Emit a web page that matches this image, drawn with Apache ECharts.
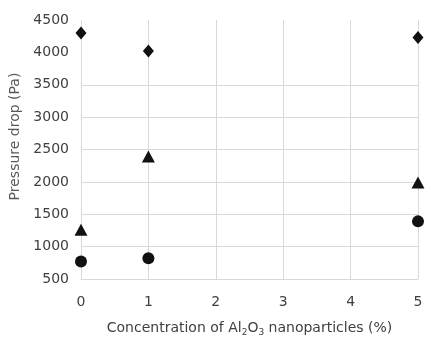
<!DOCTYPE html>
<html lang="en">
<head>
    <meta charset="utf-8">
    <title>Pressure drop</title>
    <script src="https://cdn.jsdelivr.net/npm/echarts@6/dist/echarts.min.js"></script>
    <style>
        html, body { margin: 0; padding: 0; background: #fff; }
        #chart { width: 440px; height: 341px; }
    </style>
</head>
<body>
    <div id="chart"></div>
    <script type="text/javascript">
        // concentration (%) on x
        var concentrations = [0, 1, 5];
        // pressure drop (Pa) for the three marker series
        var diamondValues = [4300, 4020, 4230];
        var triangleValues = [1260, 2390, 1990];
        var circleValues = [770, 820, 1390];
        var xTicks = [0, 1, 2, 3, 4, 5];
        var yTicks = [500, 1000, 1500, 2000, 2500, 3000, 3500, 4000, 4500];

        function pairs(vals) {
            return concentrations.map(function (c, i) { return [c, vals[i]]; });
        }

        var font = "DejaVu Sans";
        var chart = echarts.init(document.getElementById("chart"));
        var option = {
            backgroundColor: "#fff",
            animation: false,
            grid: { left: 81, right: 22, top: 20, bottom: 62, outerBoundsMode: "none", containLabel: false },
            xAxis: {
                type: "value",
                min: xTicks[0],
                max: xTicks[xTicks.length - 1],
                interval: 1,
                name: "{n|Concentration of Al}{s|2}{n|O}{s|3}{n| nanoparticles (%)}",
                nameLocation: "middle",
                nameGap: 41,
                nameTextStyle: {
                    rich: {
                        n: { fontFamily: font, fontSize: 14, color: "#404040" },
                        s: { fontFamily: font, fontSize: 9, color: "#404040", verticalAlign: "bottom", padding: [8, 0, 0, 0] }
                    }
                },
                axisLine: { show: true, lineStyle: { color: "#d9d9d9" } },
                axisTick: { show: false },
                axisLabel: { fontFamily: font, fontSize: 14, color: "#404040", margin: 16 },
                splitLine: { show: true, lineStyle: { color: "#d9d9d9" } }
            },
            yAxis: {
                type: "value",
                min: yTicks[0],
                max: yTicks[yTicks.length - 1],
                interval: 500,
                name: "Pressure drop (Pa)",
                nameLocation: "middle",
                nameGap: 57,
                nameTextStyle: { fontFamily: font, fontSize: 14, color: "#595959", padding: [0, 0, 0, 26] },
                axisLine: { show: false },
                axisTick: { show: false },
                axisLabel: { fontFamily: font, fontSize: 14, color: "#404040", margin: 12, formatter: function (v) { return String(v); } },
                splitLine: {
                    show: true,
                    lineStyle: { color: ["#d9d9d9", "#d9d9d9", "#d9d9d9", "#d9d9d9", "#d9d9d9", "#d9d9d9", "#d9d9d9", "transparent", "transparent"] }
                }
            },
            series: [
                { name: "diamond", type: "scatter", symbol: "diamond", symbolSize: [11, 13], itemStyle: { color: "#111", opacity: 1 }, data: pairs(diamondValues) },
                { name: "triangle", type: "scatter", symbol: "triangle", symbolSize: [13, 12], itemStyle: { color: "#111", opacity: 1 }, data: pairs(triangleValues) },
                { name: "circle", type: "scatter", symbol: "circle", symbolSize: 12, itemStyle: { color: "#111", opacity: 1 }, data: pairs(circleValues) }
            ]
        };
        chart.setOption(option);
    </script>
</body>
</html>
